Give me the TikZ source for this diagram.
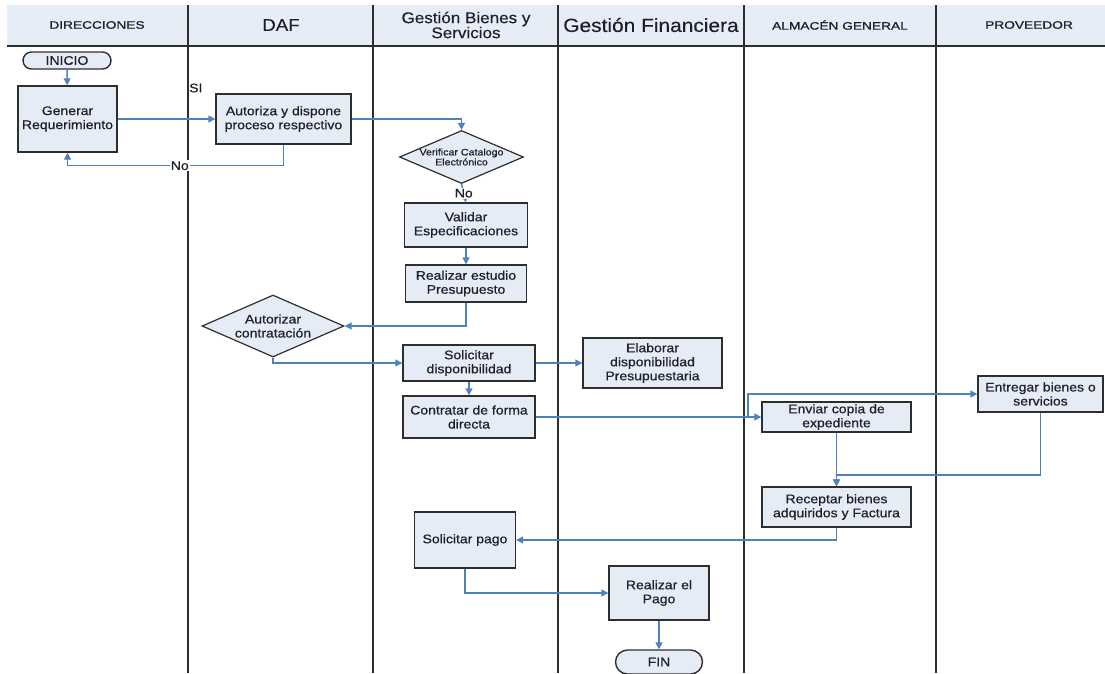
\documentclass[tikz,border=0pt]{standalone}
\usepackage{fontspec}
\setmainfont{Liberation Sans}
\newfontfamily\boxfont{Liberation Sans}[FakeStretch=1.12,FakeBold=0.6]
\newfontfamily\capsfont{Liberation Sans}[FakeStretch=1.27,FakeBold=1]
\newfontfamily\headfont{Liberation Sans}[FakeStretch=1.1,FakeBold=0.3]
\usetikzlibrary{arrows.meta,shapes.geometric,shapes.misc}
\definecolor{boxfill}{HTML}{E6ECF6}
\definecolor{headfill}{HTML}{E7EDF7}
\definecolor{flowblue}{HTML}{4F81BD}
\definecolor{ink}{HTML}{1F1F2A}
\definecolor{rulegray}{HTML}{2E2E2E}

\begin{document}
\begin{tikzpicture}[x=1pt,y=-1pt,
  boxtext/.style={text=ink,align=center,font=\boxfont\fontsize{12.5}{14}\selectfont},
  proc/.style={boxtext,draw=rulegray,line width=1.4pt,fill=boxfill,inner sep=0pt},
  term/.style={proc,rounded rectangle},
  decision/.style={draw=rulegray,line width=1.2pt,fill=boxfill,diamond,inner sep=0pt},
  flow/.style={draw=flowblue,line width=1.4pt,-{Triangle[length=7pt,width=7pt]}},
  lbl/.style={fill=white,inner sep=1pt,text=ink,font=\boxfont\fontsize{12.5}{14}\selectfont},
  lane/.style={draw=rulegray,line width=1.4pt},
  head/.style={text=ink,align=center},
  capshead/.style={head,font=\capsfont\fontsize{10.8}{13}\selectfont}
]
\useasboundingbox (0,0) rectangle (1105,673);

% swimlane header band and dividers
\fill[headfill] (7,5) rectangle (1105,46);
\draw[lane] (7,46) -- (1105,46);
\foreach \lx in {188,373,558,744,936}
  \draw[lane] (\lx,5) -- (\lx,673);

\node[capshead] (h1) at (97,25) {DIRECCIONES};
\node[head,font=\headfont\fontsize{17}{20}\selectfont] (h2) at (281,25) {DAF};
\node[head,font=\headfont\fontsize{15.5}{15}\selectfont] (h3) at (466,25) {Gestión Bienes y\\Servicios};
\node[head,font=\headfont\fontsize{19}{21}\selectfont] (h4) at (651,25) {Gestión Financiera};
\node[capshead] (h5) at (840,25) {ALMACÉN GENERAL};
\node[capshead] (h6) at (1029,25) {PROVEEDOR};

% process steps
\node[term,minimum width=88pt,minimum height=17pt] (ini) at (67,60.5) {INICIO};
\node[proc,minimum width=99pt,minimum height=66pt] (gen) at (67.5,119) {Generar\\Requerimiento};
\node[proc,minimum width=135pt,minimum height=50pt] (aut) at (283.5,119) {Autoriza y dispone\\proceso respectivo};
\node[decision,minimum width=124pt,minimum height=53pt,
  label={[boxtext,font=\boxfont\fontsize{9.5}{8.5}\selectfont]center:Verificar Catalogo\\Electrónico}] (ver) at (461.5,157) {};
\node[proc,minimum width=123pt,minimum height=44pt] (val) at (466,225) {Validar\\Especificaciones};
\node[proc,minimum width=121pt,minimum height=37pt] (res) at (466,283.5) {Realizar estudio\\Presupuesto};
\node[decision,minimum width=142pt,minimum height=62pt,
  label={[boxtext]center:Autorizar\\contratación}] (aco) at (273,326) {};
\node[proc,minimum width=132pt,minimum height=36pt] (sol) at (469,363) {Solicitar\\disponibilidad};
\node[proc,minimum width=139pt,minimum height=50pt] (ela) at (652.5,363) {Elaborar\\disponibilidad\\Presupuestaria};
\node[proc,minimum width=132pt,minimum height=42pt] (con) at (469,417) {Contratar de forma\\directa};
\node[proc,minimum width=149pt,minimum height=30pt] (env) at (836.5,417) {Enviar copia de\\expediente};
\node[proc,minimum width=125pt,minimum height=36pt] (ent) at (1040.5,394) {Entregar bienes o\\servicios};
\node[proc,minimum width=149pt,minimum height=40pt] (rec) at (836.5,507) {Receptar bienes\\adquiridos y Factura};
\node[proc,minimum width=101pt,minimum height=56pt] (pag) at (465,540) {Solicitar pago};
\node[proc,minimum width=100pt,minimum height=54pt] (rpa) at (659,593) {Realizar el\\Pago};
\node[term,minimum width=87pt,minimum height=24pt] (fin) at (659,662) {FIN};

\node[text=ink,font=\boxfont\fontsize{12.5}{14}\selectfont,anchor=west,inner sep=0pt] (si) at (189,88) {SI};

% junction points
\coordinate (split) at (748,417);
\coordinate (merge) at (836.5,475);

% connectors
\draw[flow] (ini) -- (gen);
\draw[flow] (gen) -- (aut);
\draw[flow] (aut.south) -- ++(0,21) -| node[lbl,pos=0.24] (no1) {No} (gen.south);
\draw[flow] (aut.east) -| (ver.north);
\draw[flow] (ver.south) -- node[lbl] (no2) {No} (val.north);
\draw[flow] (val) -- (res);
\draw[flow] (res.south) |- (aco.east);
\draw[flow] (aco.south) |- (sol.west);
\draw[flow] (sol.east) -- (ela.west);
\draw[flow] (sol) -- (con);
\draw[flow] (con.east) -- (env.west);
\draw[flow] (con.east) -- (split) |- (ent.west);
\draw[flow] (env) -- (rec);
\draw[flow] (ent.south) |- (merge) -- (rec.north);
\draw[flow] (rec.south) |- (pag.east);
\draw[flow] (pag.south) |- (rpa.west);
\draw[flow] (rpa) -- (fin);
\end{tikzpicture}
\end{document}
